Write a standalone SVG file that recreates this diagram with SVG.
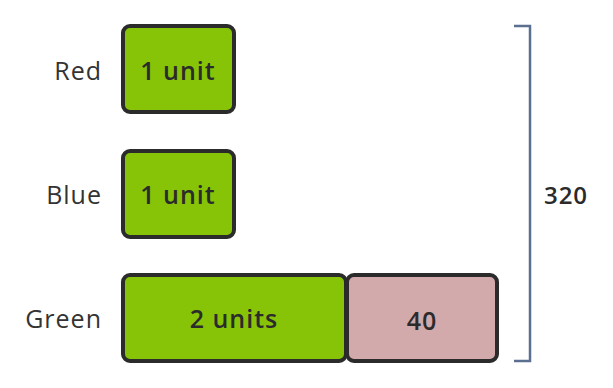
<svg xmlns="http://www.w3.org/2000/svg" width="613" height="388" viewBox="0 0 613 388">
<style>
.box{stroke:#2b2b2b;stroke-width:4}
.g{fill:#87c408}
.p{fill:#d2aaab}
.lbl{font-family:"Open Sans",Lato,sans-serif;font-size:25px;fill:#333;text-anchor:end;letter-spacing:1px}
.val{font-family:"Open Sans",Lato,sans-serif;font-size:25px;font-weight:600;fill:#2b2b2b;text-anchor:middle;letter-spacing:1px}
.br{fill:none;stroke:#5b7090;stroke-width:2.5}
</style>
<rect width="613" height="388" fill="#fff"/>
<g id="red">
<text class="lbl" x="102" y="80">Red</text>
<rect class="box g" x="123" y="26" width="111" height="86" rx="7"/>
<text class="val" x="178" y="80">1 unit</text>
</g>
<g id="blue">
<text class="lbl" x="102" y="204">Blue</text>
<rect class="box g" x="123" y="151" width="111" height="86" rx="7"/>
<text class="val" x="178" y="204">1 unit</text>
</g>
<g id="green">
<text class="lbl" x="102" y="328">Green</text>
<rect class="box g" x="123" y="275" width="223" height="86" rx="7"/>
<text class="val" x="234" y="328">2 units</text>
</g>
<g id="extra">
<rect class="box p" x="347" y="275" width="150" height="86" rx="7"/>
<text class="val" x="422" y="330">40</text>
</g>
<g id="connectors">
<path class="br" d="M514 26 H530 V361 H514"/>
</g>
<g id="total">
<text class="val" x="566" y="204" style="font-size:24px">320</text>
</g>
</svg>
